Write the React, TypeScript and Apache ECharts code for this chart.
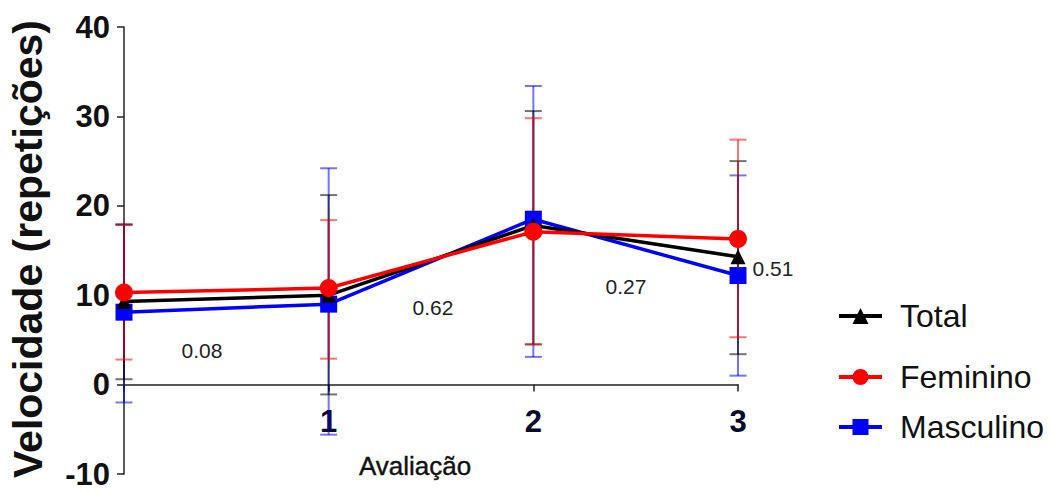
import React, { useEffect, useRef } from "react";
import * as echarts from "echarts";

const evaluations = [0, 1, 2, 3];
const xTickLabels = ["", "1", "2", "3"];

const totalMean = [9.3, 10.0, 17.8, 14.3];
const totalLow = [0.6, -1.1, 4.5, 3.4];
const totalHigh = [17.9, 21.2, 30.6, 25.0];

const femMean = [10.3, 10.8, 17.1, 16.3];
const femLow = [2.8, 2.9, 4.5, 5.3];
const femHigh = [17.9, 18.4, 29.8, 27.4];

const mascMean = [8.1, 9.0, 18.5, 12.2];
const mascLow = [-2.0, -5.6, 3.1, 1.0];
const mascHigh = [17.9, 24.2, 33.4, 23.4];

const pValues = ["0.08", "0.62", "0.27", "0.51"];
const pValuePixels = [
  [202, 350],
  [433, 307],
  [626, 286],
  [773, 268],
];

const FONT = "'Liberation Sans', Arial, sans-serif";
const GRID_TOP = 27;
const GRID_BOTTOM = 17;
const CHART_H = 491;
const Y_MIN = -10;
const Y_MAX = 40;
// offset that moves the x axis from the grid bottom up to y = 0
const plotH = CHART_H - GRID_TOP - GRID_BOTTOM;
const xAxisOffset = -(plotH * (0 - Y_MIN)) / (Y_MAX - Y_MIN);

function errorSeries(name: string, low: number[], high: number[], color: string) {
  return {
    type: "custom",
    name: name + "_err",
    silent: true,
    z: 1,
    data: evaluations.map((x, i) => [x, low[i], high[i]]),
    renderItem: (params: any, api: any) => {
      const x = api.value(0);
      const lo = api.coord([x, api.value(1)]);
      const hi = api.coord([x, api.value(2)]);
      const hw = 8.5;
      const style = { stroke: color, lineWidth: 2, fill: "none" };
      return {
        type: "group",
        children: [
          { type: "line", shape: { x1: lo[0], y1: lo[1], x2: hi[0], y2: hi[1] }, style },
          { type: "line", shape: { x1: lo[0] - hw, y1: lo[1], x2: lo[0] + hw, y2: lo[1] }, style },
          { type: "line", shape: { x1: hi[0] - hw, y1: hi[1], x2: hi[0] + hw, y2: hi[1] }, style },
        ],
      };
    },
  };
}

function lineSeries(name: string, mean: number[], color: string, symbol: string, size: number, z: number) {
  return {
    type: "line",
    name,
    z,
    data: evaluations.map((x, i) => [x, mean[i]]),
    symbol,
    symbolSize: size,
    showAllSymbol: true,
    lineStyle: { color, width: 3.5 },
    itemStyle: { color },
  };
}

export default function App() {
  const ref = useRef<HTMLDivElement>(null);
  useEffect(() => {
    if (!ref.current) return;
    const chart = echarts.init(ref.current, undefined, { renderer: "svg" });
    const legendCommon = {
      orient: "vertical",
      left: 832,
      itemWidth: 43,
      itemHeight: 20,
      selectedMode: false,
      lineStyle: { width: 4 },
      textStyle: { fontSize: 32, color: "#111", fontFamily: FONT, padding: [0, 0, 0, 13] },
    };
    chart.setOption({
      animation: false,
      backgroundColor: "#fff",
      grid: {
        left: 124,
        right: 314,
        top: GRID_TOP,
        bottom: GRID_BOTTOM,
        containLabel: false,
        outerBoundsMode: "none",
      },
      xAxis: {
        type: "value",
        min: 0,
        max: 3,
        interval: 1,
        offset: xAxisOffset,
        axisLine: { onZero: false, lineStyle: { color: "#222", width: 1.5 } },
        axisTick: { show: true, length: 7, lineStyle: { color: "#222", width: 1.5 } },
        axisLabel: {
          margin: 21,
          fontSize: 31,
          fontWeight: "bold",
          color: "#0a0a2a",
          fontFamily: FONT,
          formatter: (v: number) => xTickLabels[v] ?? "",
        },
        splitLine: { show: false },
      },
      yAxis: {
        type: "value",
        min: Y_MIN,
        max: Y_MAX,
        interval: 10,
        axisLine: { show: true, onZero: false, lineStyle: { color: "#222", width: 1.5 } },
        axisTick: { show: true, length: 7, lineStyle: { color: "#222", width: 1.5 } },
        axisLabel: {
          margin: 14,
          fontSize: 31,
          fontWeight: "bold",
          color: "#111",
          fontFamily: FONT,
        },
        splitLine: { show: false },
      },
      legend: [
        { ...legendCommon, top: 295, data: ["Total"] },
        { ...legendCommon, top: 356, data: ["Feminino"] },
        { ...legendCommon, top: 406, data: ["Masculino"] },
      ],
      graphic: [
        {
          type: "text",
          x: 28,
          y: 249,
          rotation: Math.PI / 2,
          style: {
            text: "Velocidade (repetições)",
            font: `bold 41px ${FONT}`,
            fill: "#111",
            textAlign: "center",
            textVerticalAlign: "middle",
          },
        },
        {
          type: "text",
          x: 415,
          y: 466,
          style: {
            text: "Avaliação",
            font: `26px ${FONT}`,
            fill: "#111",
            stroke: "#111",
            lineWidth: 0.4,
            textAlign: "center",
            textVerticalAlign: "middle",
          },
        },
        ...pValues.map((t, i) => ({
          type: "text",
          x: pValuePixels[i][0],
          y: pValuePixels[i][1],
          style: {
            text: t,
            font: `21px ${FONT}`,
            fill: "#222",
            textAlign: "center",
            textVerticalAlign: "middle",
          },
        })),
      ],
      series: [
        errorSeries("Masculino", mascLow, mascHigh, "rgba(0,0,255,0.55)"),
        errorSeries("Total", totalLow, totalHigh, "rgba(0,0,0,0.55)"),
        errorSeries("Feminino", femLow, femHigh, "rgba(255,0,0,0.55)"),
        lineSeries("Masculino", mascMean, "#0000ff", "rect", 17, 3),
        lineSeries("Total", totalMean, "#000000", "triangle", 15, 4),
        lineSeries("Feminino", femMean, "#ff0000", "circle", 18, 5),
      ],
    });
    return () => chart.dispose();
  }, []);
  return (
    <div
      ref={ref}
      style={{ position: "absolute", left: 0, top: 0, width: 1052, height: 491 }}
    />
  );
}
